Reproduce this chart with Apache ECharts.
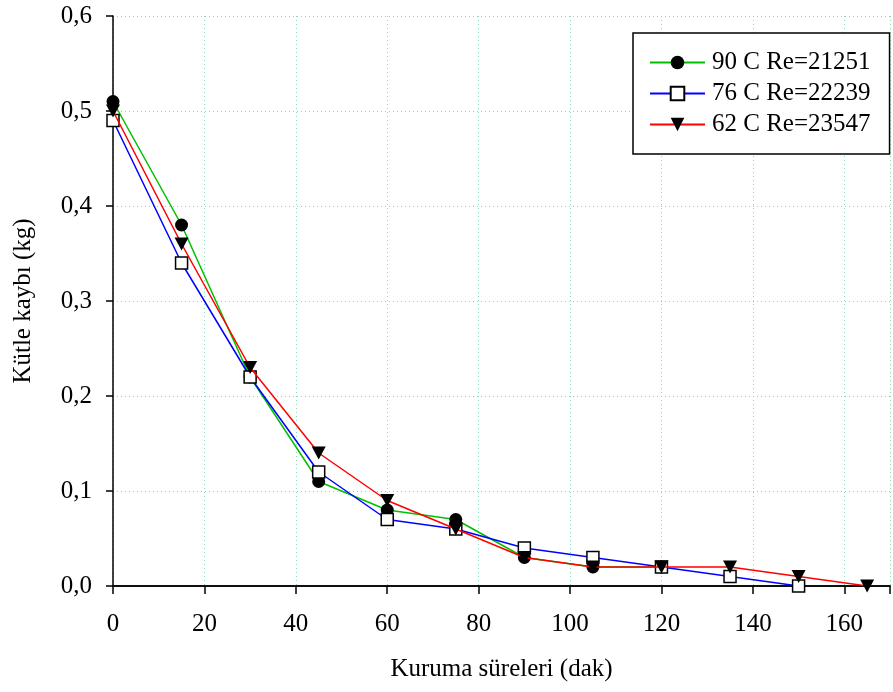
<!DOCTYPE html>
<html>
<head>
<meta charset="utf-8">
<script src="https://cdn.jsdelivr.net/npm/echarts@6/dist/echarts.min.js"></script>
<style>html,body{margin:0;padding:0;background:#fff}#c{width:893px;height:692px}</style>
</head>
<body>
<div id="c"></div>
<script>
const times = [0, 15, 30, 45, 60, 75, 90, 105, 120, 135, 150, 165];
const seriesNames = ['90 C Re=21251', '76 C Re=22239', '62 C Re=23547'];
const green90 = [0.51, 0.38, 0.22, 0.11, 0.08, 0.07, 0.03, 0.02, 0.02];
const blue76 = [0.49, 0.34, 0.22, 0.12, 0.07, 0.06, 0.04, 0.03, 0.02, 0.01, 0.00];
const red62 = [0.50, 0.36, 0.23, 0.14, 0.09, 0.06, 0.03, 0.02, 0.02, 0.02, 0.01, 0.00];
const xTitle = 'Kuruma süreleri (dak)';
const yTitle = 'Kütle kaybı (kg)';

const FONT = '"Liberation Serif", "Times New Roman", serif';
const pair = (arr) => arr.map((v, i) => [times[i], v]);
const chart = echarts.init(document.getElementById('c'), null, {renderer: 'canvas'});
const gridLine = {show: true, lineStyle: {color: '#8fd6b8', width: 1, type: [1, 3]}};
chart.setOption({
  backgroundColor: '#fff',
  animation: false,
  textStyle: {fontFamily: FONT},
  grid: {left: 113, right: -5, top: 16, bottom: 106, containLabel: false},
  xAxis: [{
    type: 'value', min: 0, max: 170, interval: 20,
    name: xTitle, nameLocation: 'middle', nameGap: 71,
    nameTextStyle: {fontFamily: FONT, fontSize: 25, color: '#000'},
    axisLine: {show: true, onZero: false, lineStyle: {color: '#000', width: 1.5}},
    axisTick: {show: true, inside: false, length: 8, lineStyle: {color: '#000', width: 1.5}},
    axisLabel: {fontFamily: FONT, fontSize: 25, color: '#000', margin: 26,
      formatter: v => (v > 160 ? '' : String(v))},
    splitLine: gridLine
  }, {
    type: 'value', min: 0, max: 170, position: 'top',
    axisLine: {show: true, lineStyle: {color: '#000', width: 1.5}},
    axisTick: {show: false}, axisLabel: {show: false}, splitLine: {show: false}
  }],
  yAxis: {
    type: 'value', min: 0, max: 0.6, interval: 0.1,
    name: yTitle, nameLocation: 'middle', nameGap: 77, nameRotate: 90,
    nameTextStyle: {fontFamily: FONT, fontSize: 25, color: '#000'},
    axisLine: {show: true, onZero: false, lineStyle: {color: '#000', width: 1.5}},
    axisTick: {show: true, inside: false, length: 7, lineStyle: {color: '#000', width: 1.5}},
    axisLabel: {fontFamily: FONT, fontSize: 25, color: '#000', margin: 21,
      formatter: v => v.toFixed(1).replace('.', ',')},
    splitLine: gridLine
  },
  legend: {
    orient: 'vertical', left: 633, top: 33,
    backgroundColor: '#fff',
    borderColor: '#000', borderWidth: 1.5,
    padding: [17, 19, 17, 16],
    itemWidth: 55, itemHeight: 17, itemGap: 6,
    textStyle: {fontFamily: FONT, fontSize: 25, color: '#000', padding: [0, 0, 0, 2]},
    data: seriesNames
  },
  series: [{
    name: seriesNames[0], type: 'line', data: pair(green90), clip: false,
    symbol: 'circle', symbolSize: 13,
    lineStyle: {color: '#00c000', width: 1.5},
    itemStyle: {color: '#000', borderColor: '#000', borderWidth: 0},
    z: 2
  }, {
    name: seriesNames[1], type: 'line', data: pair(blue76), clip: false,
    symbol: 'rect', symbolSize: 12,
    lineStyle: {color: '#0000ff', width: 1.5},
    itemStyle: {color: '#fff', borderColor: '#000', borderWidth: 1.5},
    z: 3
  }, {
    name: seriesNames[2], type: 'line', data: pair(red62), clip: false,
    symbol: 'triangle', symbolSize: [14, 13], symbolRotate: 180,
    lineStyle: {color: '#ff0000', width: 1.5},
    itemStyle: {color: '#000', borderColor: '#000', borderWidth: 0},
    z: 4
  }]
});
</script>
</body>
</html>
